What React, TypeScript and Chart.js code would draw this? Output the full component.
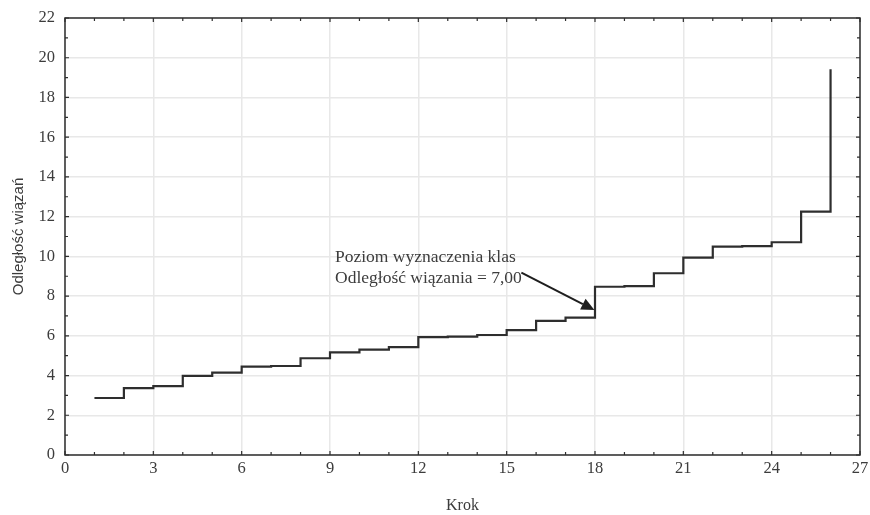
import { useEffect, useRef } from 'react';
import { Chart, registerables } from 'chart.js';

Chart.register(...registerables);

// Step (Krok) and linkage distance (Odległość wiązań)
const steps = [1, 2, 3, 4, 5, 6, 7, 8, 9, 10, 11, 12, 13, 14, 15, 16, 17, 18, 19, 20, 21, 22, 23, 24, 25, 26];
const distances = [2.87, 3.37, 3.47, 3.98, 4.15, 4.45, 4.48, 4.87, 5.17, 5.3, 5.43, 5.93, 5.96, 6.04, 6.29, 6.75, 6.92, 8.47, 8.5, 9.15, 9.94, 10.49, 10.52, 10.71, 12.25, 19.42];

const xTitle = 'Krok';
const yTitle = 'Odległość wiązań';
const annotationLines = ['Poziom wyznaczenia klas', 'Odległość wiązania = 7,00'];
const annotationText = { x: 9.17, y: 9.73, lineGapY: 1.07 };
const arrowFrom = { x: 15.5, y: 9.18 };
const arrowTo = { x: 17.98, y: 7.3 };

const FONT = "'Liberation Serif', 'DejaVu Serif', serif";
const SANS = "'Liberation Sans', Arial, sans-serif";
const TEXT = '#3c3c3c';
const LINE = '#2e2e2e';

const framePlugin = {
  id: 'frameAndAnnot',
  afterDraw(chart: any) {
    const { ctx, chartArea: a } = chart;
    const xs = chart.scales.x;
    const ys = chart.scales.y;
    ctx.save();
    // frame
    ctx.strokeStyle = LINE;
    ctx.lineWidth = 1.5;
    ctx.strokeRect(a.left, a.top, a.right - a.left, a.bottom - a.top);
    // minor inward ticks
    ctx.lineWidth = 1.2;
    ctx.beginPath();
    for (let i = xs.min; i <= xs.max; i++) {
      const px = xs.getPixelForValue(i);
      const len = i % 3 === 0 ? 4 : 3;
      ctx.moveTo(px, a.bottom);
      ctx.lineTo(px, a.bottom - len);
      ctx.moveTo(px, a.top);
      ctx.lineTo(px, a.top + len);
    }
    for (let j = ys.min; j <= ys.max; j++) {
      const py = ys.getPixelForValue(j);
      const len = j % 2 === 0 ? 4 : 3;
      ctx.moveTo(a.left, py);
      ctx.lineTo(a.left + len, py);
      ctx.moveTo(a.right, py);
      ctx.lineTo(a.right - len, py);
    }
    ctx.stroke();

    // annotation text
    ctx.fillStyle = TEXT;
    ctx.font = `17.5px ${FONT}`;
    ctx.textAlign = 'left';
    ctx.textBaseline = 'alphabetic';
    annotationLines.forEach((t, k) => {
      ctx.fillText(
        t,
        xs.getPixelForValue(annotationText.x),
        ys.getPixelForValue(annotationText.y - k * annotationText.lineGapY)
      );
    });

    // arrow
    const x1 = xs.getPixelForValue(arrowFrom.x);
    const y1 = ys.getPixelForValue(arrowFrom.y);
    const x2 = xs.getPixelForValue(arrowTo.x);
    const y2 = ys.getPixelForValue(arrowTo.y);
    const ang = Math.atan2(y2 - y1, x2 - x1);
    const head = 13;
    const hw = 6;
    const bx = x2 - head * Math.cos(ang);
    const by = y2 - head * Math.sin(ang);
    ctx.strokeStyle = '#1e1e1e';
    ctx.lineWidth = 2;
    ctx.beginPath();
    ctx.moveTo(x1, y1);
    ctx.lineTo(bx, by);
    ctx.stroke();
    ctx.fillStyle = '#1e1e1e';
    ctx.beginPath();
    ctx.moveTo(x2, y2);
    ctx.lineTo(bx + hw * Math.sin(ang), by - hw * Math.cos(ang));
    ctx.lineTo(bx - hw * Math.sin(ang), by + hw * Math.cos(ang));
    ctx.closePath();
    ctx.fill();
    ctx.restore();
  },
};

export default function App() {
  const ref = useRef<HTMLCanvasElement | null>(null);

  useEffect(() => {
    if (!ref.current) return;
    const chart = new Chart(ref.current, {
      type: 'line',
      data: {
        datasets: [
          {
            data: steps.map((s, i) => ({ x: s, y: distances[i] })),
            stepped: 'before',
            borderColor: LINE,
            borderWidth: 2.2,
            pointRadius: 0,
            fill: false,
          },
        ],
      },
      options: {
        responsive: false,
        animation: false,
        layout: { padding: { top: 18, right: 10, left: 0, bottom: 0 } },
        plugins: { legend: { display: false }, tooltip: { enabled: false } },
        scales: {
          x: {
            type: 'linear',
            min: 0,
            max: 27,
            afterFit: (s: any) => {
              s.height = 60;
              s.paddingLeft = 0;
              s.paddingRight = 0;
            },
            ticks: {
              stepSize: 3,
              autoSkip: false,
              maxRotation: 0,
              padding: 4,
              color: TEXT,
              font: { family: FONT, size: 16.5 },
            },
            grid: { color: '#e8e8e8', lineWidth: 1.5, drawTicks: false },
            border: { display: false },
            title: {
              display: true,
              text: xTitle,
              color: TEXT,
              font: { family: FONT, size: 16 },
              padding: { top: 0, bottom: 0 },
            },
          },
          y: {
            min: 0,
            max: 22,
            afterFit: (s: any) => {
              s.width = 65;
              s.paddingTop = 0;
              s.paddingBottom = 0;
            },
            ticks: {
              stepSize: 2,
              padding: 10,
              color: TEXT,
              font: { family: FONT, size: 16.5 },
            },
            grid: { color: '#e8e8e8', lineWidth: 1.5, drawTicks: false },
            border: { display: false },
            title: {
              display: true,
              text: yTitle,
              color: TEXT,
              font: { family: SANS, size: 15 },
              padding: { top: 10, bottom: 0 },
            },
          },
        },
      },
      plugins: [framePlugin],
    });
    return () => chart.destroy();
  }, []);

  return (
    <div style={{ position: 'fixed', left: 0, top: 0, width: 870, height: 515, background: '#fff' }}>
      <canvas ref={ref} width={870} height={515} />
    </div>
  );
}
